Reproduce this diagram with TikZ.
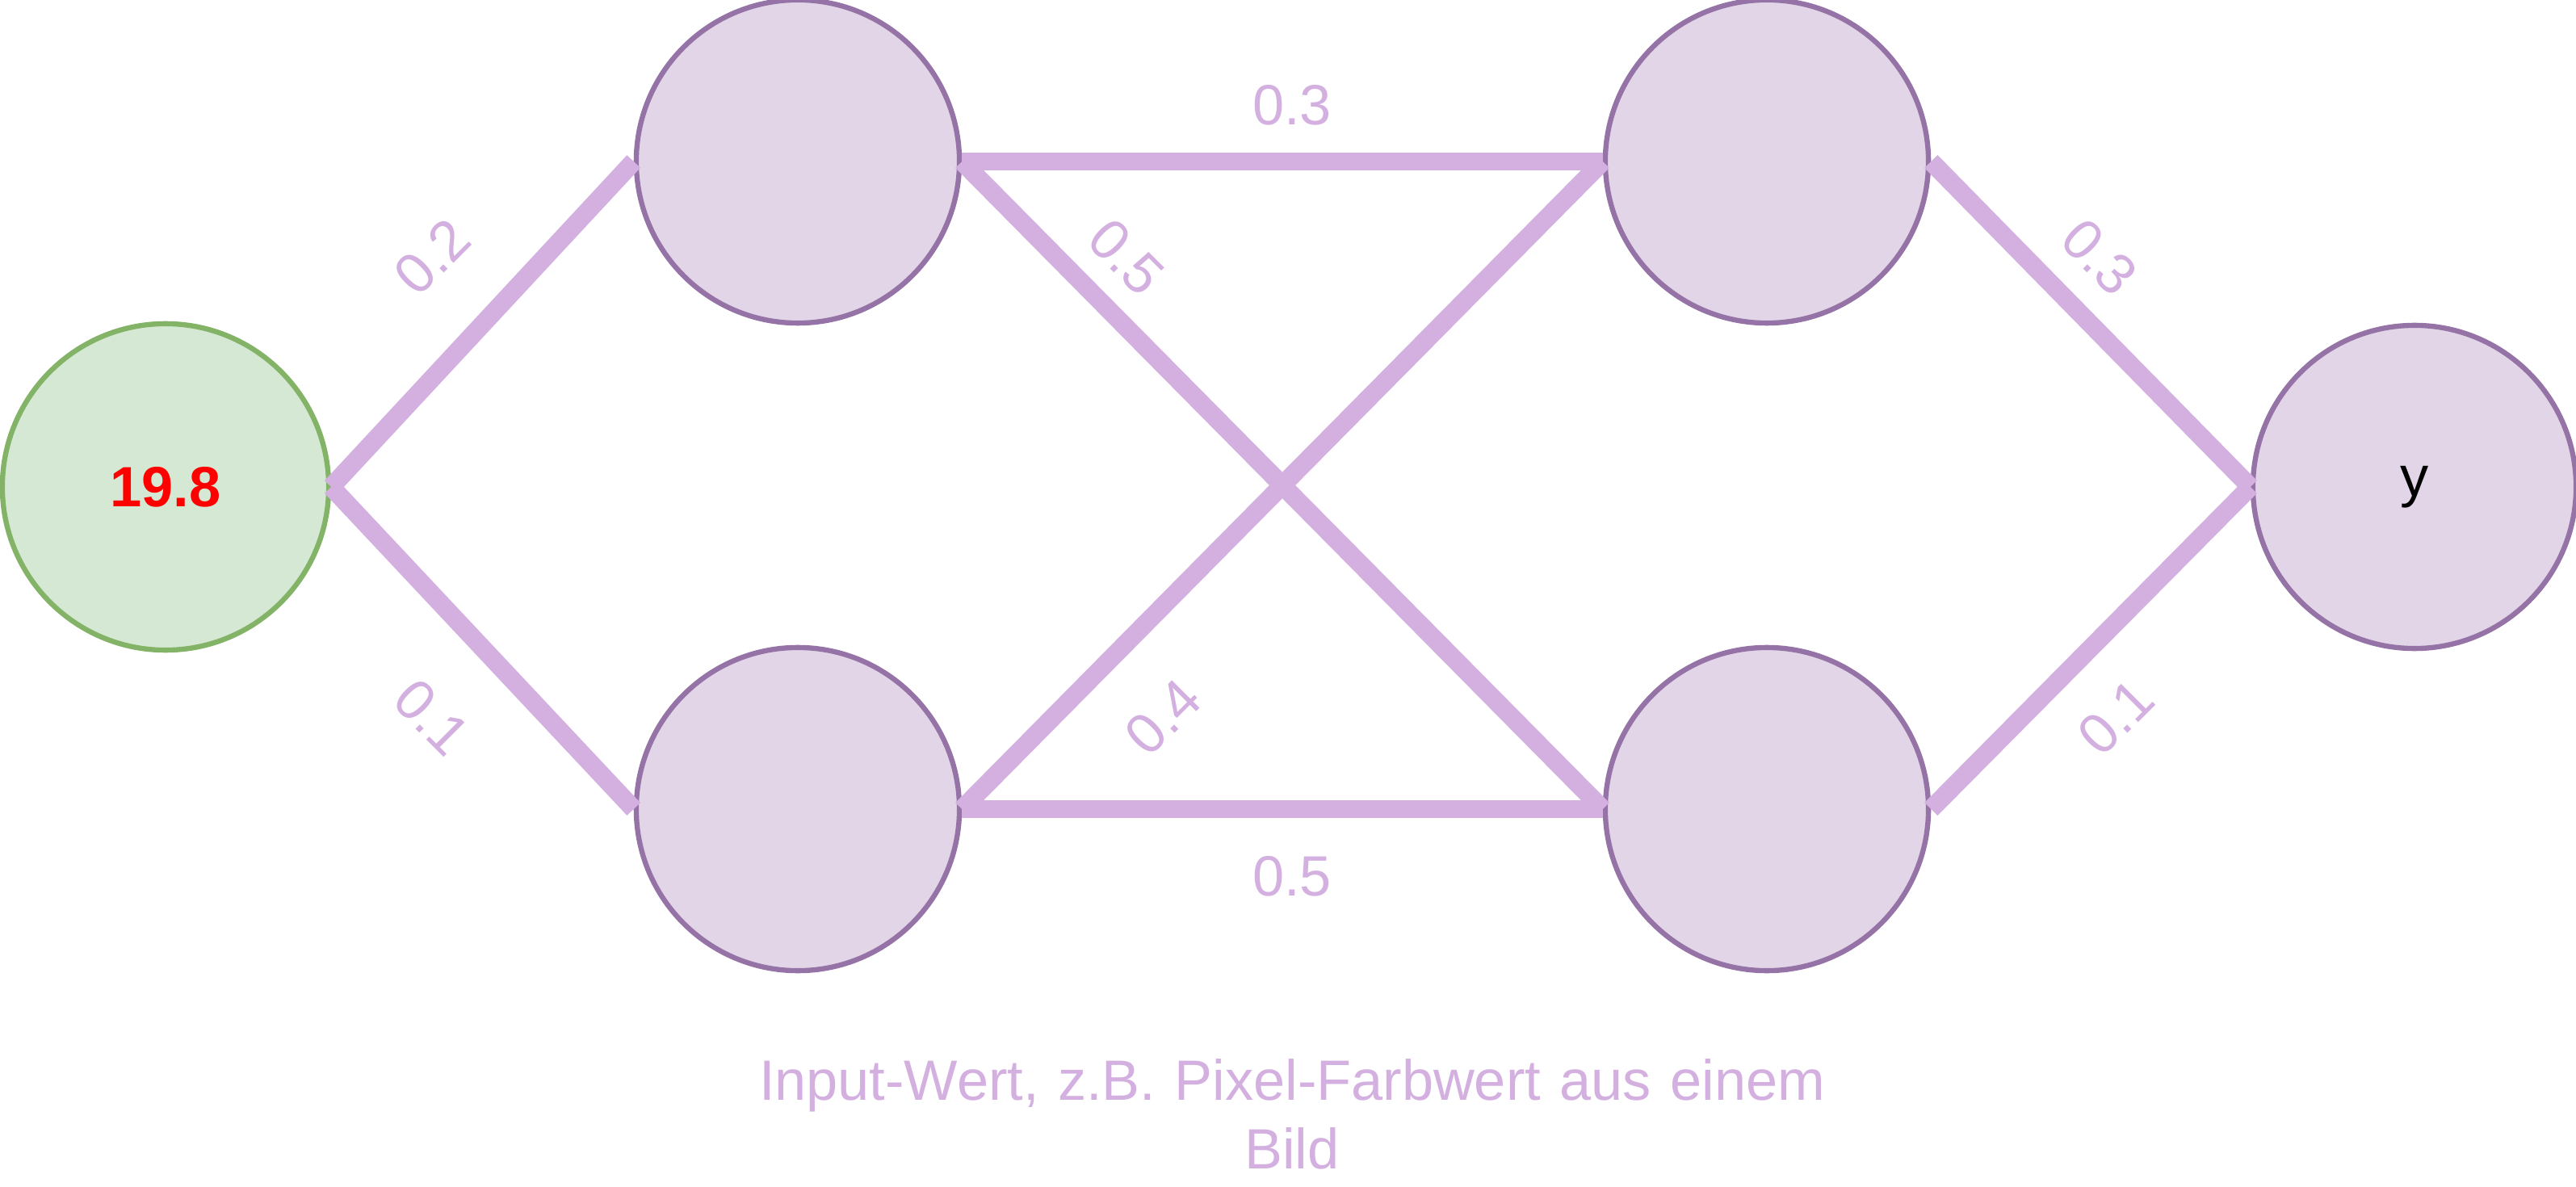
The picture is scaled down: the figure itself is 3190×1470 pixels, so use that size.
\documentclass[tikz,border=0pt]{standalone}
\usepackage{fontspec}
\setmainfont{Liberation Sans}
\definecolor{nfill}{HTML}{E1D5E7}
\definecolor{ndraw}{HTML}{9673A6}
\definecolor{gfill}{HTML}{D5E8D4}
\definecolor{gdraw}{HTML}{82B366}
\definecolor{edge}{HTML}{D3B0E0}
\begin{document}
\begin{tikzpicture}[x=0.01cm,y=-0.01cm,
  neuron/.style={circle,minimum size=4cm,inner sep=0pt,fill=nfill,draw=ndraw,line width=1.8pt},
  conn/.style={draw=edge,line width=6.5pt},
  wlab/.style={text=edge,font=\fontsize{20}{24}\selectfont}]
\useasboundingbox (0,0) rectangle (3190,1470);
\node[neuron,fill=gfill,draw=gdraw,minimum size=4.04cm] (in) at (205,603) {\fontsize{20}{24}\selectfont\bfseries\color{red}19.8};
\node[neuron] (h1) at (988,200) {};
\node[neuron] (h2) at (988,1002) {};
\node[neuron] (h3) at (2188,200) {};
\node[neuron] (h4) at (2188,1002) {};
\node[neuron] (out) at (2990,603) {\fontsize{20}{24}\selectfont y};
\draw[conn] (in.east) -- (h1.west);
\draw[conn] (in.east) -- (h2.west);
\draw[conn] (h1.east) -- (h3.west);
\draw[conn] (h1.east) -- (h4.west);
\draw[conn] (h2.east) -- (h3.west);
\draw[conn] (h2.east) -- (h4.west);
\draw[conn] (h3.east) -- (out.west);
\draw[conn] (h4.east) -- (out.west);
\node[wlab,rotate=45] (l1) at (535,318) {0.2};
\node[wlab,rotate=-45] (l2) at (535,888) {0.1};
\node[wlab] (l3) at (1600,130) {0.3};
\node[wlab,rotate=-45] (l4) at (1395,318) {0.5};
\node[wlab,rotate=45] (l5) at (1440,888) {0.4};
\node[wlab] (l6) at (1600,1085) {0.5};
\node[wlab,rotate=-45] (l7) at (2600,318) {0.3};
\node[wlab,rotate=45] (l8) at (2620,888) {0.1};
\node[wlab,align=center,text width=14cm] (cap) at (1600,1380) {Input-Wert, z.B. Pixel-Farbwert aus einem\\Bild};
\end{tikzpicture}
\end{document}
